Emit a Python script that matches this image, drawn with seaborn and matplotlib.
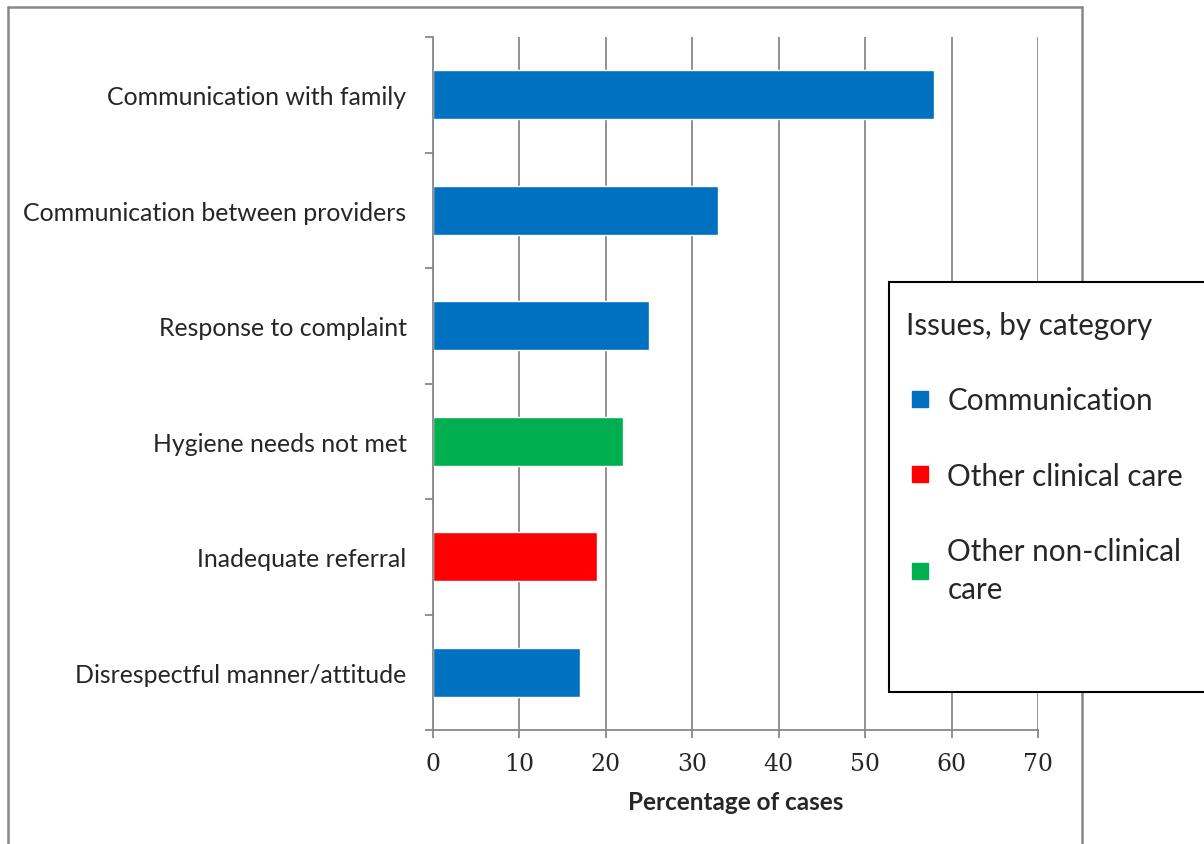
import matplotlib
matplotlib.use("Agg")
import matplotlib.pyplot as plt
from matplotlib.lines import Line2D
from matplotlib.patches import Rectangle
import seaborn as sns
import pandas as pd

issues = ["Communication with family", "Communication between providers",
          "Response to complaint", "Hygiene needs not met",
          "Inadequate referral", "Disrespectful manner/attitude"]
pct = [58, 33, 25, 22, 19, 17]
category = ["Communication", "Communication", "Communication",
            "Other non-clinical care", "Other clinical care", "Communication"]
legend_order = ["Communication", "Other clinical care", "Other non-clinical care"]
legend_labels = ["Communication", "Other clinical care", "Other non-clinical\ncare"]
colors = {"Communication": "#0070C0", "Other clinical care": "#FF0000",
          "Other non-clinical care": "#00B050"}
x_ticks = [0, 10, 20, 30, 40, 50, 60, 70]

df = pd.DataFrame({"issue": issues, "pct": pct, "category": category})

sns.set_theme(style="white")
plt.rcParams["font.family"] = ["Lato", "DejaVu Sans"]

W, H = 1204, 845
fig = plt.figure(figsize=(W / 100, H / 100), dpi=100)
ax = fig.add_axes([433 / W, 1 - 731 / H, (1038 - 433) / W, (731 - 38) / H])

sns.barplot(data=df, y="issue", x="pct", hue="category", palette=colors,
            order=issues, dodge=False, width=0.42, legend=False, ax=ax,
            saturation=1)

grid_c = "#888888"
ax.set_xlim(0, 70)
ax.set_ylim(len(issues) - 0.5, -0.5)
ax.set_xticks(x_ticks)
ax.set_xticklabels([str(t) for t in x_ticks], family="DejaVu Serif", fontsize=17)
ax.xaxis.grid(True, color=grid_c, linewidth=1.3)
ax.yaxis.grid(False)
ax.set_axisbelow(True)
for s in ["top", "right"]:
    ax.spines[s].set_visible(False)
for s in ["left", "bottom"]:
    ax.spines[s].set_color(grid_c)
    ax.spines[s].set_linewidth(1.3)

ax.set_yticks(range(len(issues)))
ax.set_yticklabels(issues, fontsize=17.9)
ax.set_yticks([i - 0.5 for i in range(len(issues) + 1)], minor=True)
ax.tick_params(axis="y", which="major", length=0, pad=19)
ax.tick_params(axis="y", which="minor", length=6, width=1.3, color=grid_c, direction="out", left=True)
ax.tick_params(axis="x", which="major", length=6, width=1.3, color=grid_c, direction="out", bottom=True, pad=9.5)
ax.set_ylabel("")
ax.set_xlabel("Percentage of cases", fontsize=17.5, fontweight="bold", labelpad=11)

# outer chart border
bc = "#888888"
for (x0, y0, x1, y1) in [(8, 8, 1082, 8), (8, 8, 8, 845), (1082, 8, 1082, 845)]:
    fig.add_artist(Line2D([x0 / W, x1 / W], [1 - y0 / H, 1 - y1 / H],
                          transform=fig.transFigure, color=bc, linewidth=1.8))

# legend box
fig.add_artist(Rectangle((889 / W, 1 - 693 / H), 400 / W, 410 / H,
                         transform=fig.transFigure, facecolor="white",
                         edgecolor="black", linewidth=1.5, zorder=5))
handles = [Line2D([], [], marker="s", linestyle="", markersize=11,
                  markerfacecolor=colors[c], markeredgecolor=colors[c])
           for c in legend_order]
leg = fig.legend(handles, legend_labels, title="Issues, by category",
                 loc="upper left", bbox_to_anchor=(906 / W, 1 - 312 / H),
                 frameon=False, fontsize=21.3, title_fontsize=21.3,
                 handlelength=0.95, handletextpad=0.45, labelspacing=1.6,
                 borderpad=0, borderaxespad=0, alignment="left")
for t in leg.get_texts():
    t.set_linespacing(1.45)
leg.set_zorder(6)

fig.savefig("out.png", dpi=100)
